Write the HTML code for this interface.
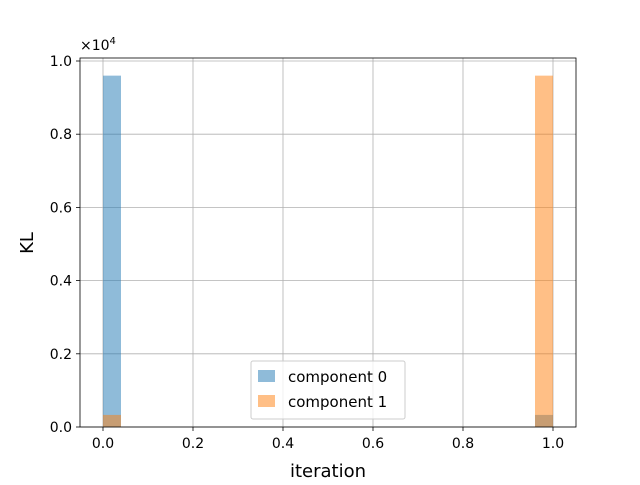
<!DOCTYPE html>
<html><head><meta charset="utf-8"><style>
body{margin:0;background:#fff;}
svg text{font-family:"DejaVu Sans","Liberation Sans",sans-serif;}
</style></head><body>
<svg id="chart" width="640" height="480" viewBox="0 0 640 480" xmlns="http://www.w3.org/2000/svg">
<rect width="640" height="480" fill="#fff"/>
<g id="grid"></g>
<g id="bars"></g>
<rect x="80" y="58" width="496" height="369" fill="none" stroke="#000" stroke-width="0.8"/>
<g id="ticks"></g>
<text x="80" y="50" font-size="14">×10<tspan dy="-6" font-size="10">4</tspan></text>
<text x="328" y="477" font-size="18" text-anchor="middle">iteration</text>
<text x="33" y="243" font-size="18" text-anchor="middle" transform="rotate(-90 33 243)">KL</text>
<g>
<rect x="251" y="361" width="154" height="58" fill="#fff" fill-opacity="0.8" stroke="#ccc" rx="2"/>
<rect x="258" y="370" width="17" height="12" fill="#1f77b4" fill-opacity="0.5"/>
<text x="288" y="382" font-size="15">component 0</text>
<rect x="258" y="395" width="17" height="12" fill="#ff7f0e" fill-opacity="0.5"/>
<text x="288" y="407" font-size="15">component 1</text>
</g>
</svg>
<script>
const binEdgesStart = [0, 0.96];
const binWidth = 0.04;
const series0 = [9600, 330];
const series1 = [330, 9600];
const xTicks = [0, 0.2, 0.4, 0.6, 0.8, 1.0];
const yTicks = [0, 2000, 4000, 6000, 8000, 10000];
const yTickLabels = ["0.0","0.2","0.4","0.6","0.8","1.0"];
const xTickLabels = ["0.0","0.2","0.4","0.6","0.8","1.0"];
const NS="http://www.w3.org/2000/svg";
const X=v=>103+v*450;
const Y=v=>427-v*0.0366;
const grid=document.getElementById('grid'),bars=document.getElementById('bars'),ticks=document.getElementById('ticks');
function mk(tag,attrs,parent){const e=document.createElementNS(NS,tag);for(const k in attrs)e.setAttribute(k,attrs[k]);parent.appendChild(e);return e;}
xTicks.forEach((t,i)=>{
 const g=mk('line',{x1:X(t),x2:X(t),y1:58,y2:427,stroke:'#b0b0b0','stroke-width':0.8},grid);
 
 
 mk('line',{x1:X(t),x2:X(t),y1:427,y2:431,stroke:'#000','stroke-width':0.8},ticks);
 const tx=mk('text',{x:X(t),y:448,'font-size':14,'text-anchor':'middle'},ticks);
 tx.textContent=xTickLabels[i];
 
 
});
yTicks.forEach((t,i)=>{
 const g=mk('line',{x1:80,x2:576,y1:Y(t),y2:Y(t),stroke:'#b0b0b0','stroke-width':0.8},grid);
 
 
 mk('line',{x1:76,x2:80,y1:Y(t),y2:Y(t),stroke:'#000','stroke-width':0.8},ticks);
 const tx=mk('text',{x:72,y:Y(t)+5,'font-size':14,'text-anchor':'end'},ticks);
 tx.textContent=yTickLabels[i];
 
 
});
[[series0,'#1f77b4','component-0'],[series1,'#ff7f0e','component-1']].forEach(([s,c,n])=>{
 s.forEach((v,i)=>{
  const x0=X(binEdgesStart[i]),x1=X(binEdgesStart[i]+binWidth);
  const r=mk('rect',{x:x0,y:Y(v),width:x1-x0,height:427-Y(v),fill:c,'fill-opacity':0.5},bars);
  
  
 });
});
</script>
</body></html>
